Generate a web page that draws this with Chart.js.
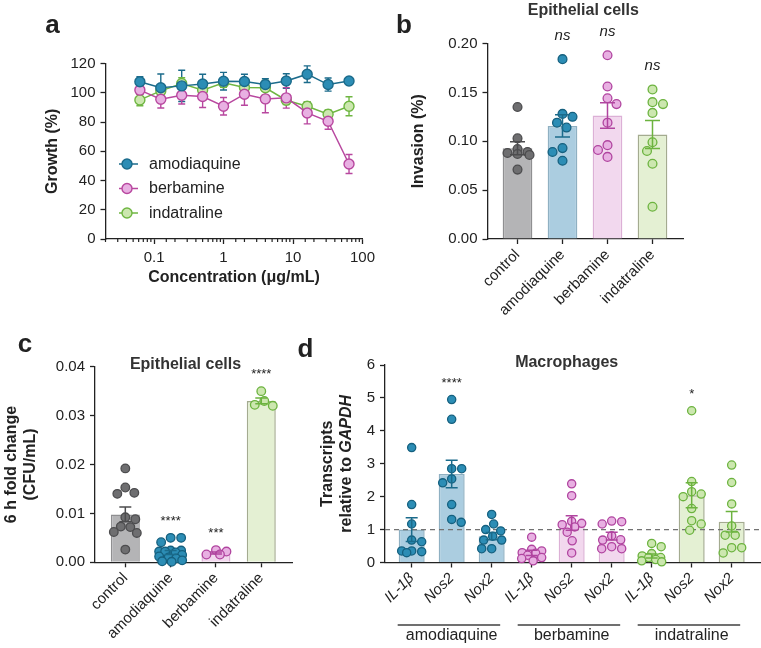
<!DOCTYPE html>
<html>
<head>
<meta charset="utf-8">
<script src="https://cdn.jsdelivr.net/npm/chart.js@4.4.1/dist/chart.umd.min.js"></script>
<style>
  html, body { margin:0; padding:0; background:#ffffff; }
  #fig { position:relative; width:761px; height:648px; overflow:hidden; background:#fff; }
  .panel { position:absolute; }
</style>
</head>
<body>
<div id="fig">
  <div class="panel" style="left:0;top:0;width:380px;height:300px"><canvas id="chartA"></canvas></div>
  <div class="panel" style="left:380px;top:0;width:381px;height:320px"><canvas id="chartB"></canvas></div>
  <div class="panel" style="left:0;top:320px;width:300px;height:328px"><canvas id="chartC"></canvas></div>
  <div class="panel" style="left:290px;top:320px;width:471px;height:328px"><canvas id="chartD"></canvas></div>
</div>
<script>
// ================= DATA =================
// Panel a: growth vs concentration
const concentrations = [0.0625, 0.125, 0.25, 0.5, 1, 2, 4, 8, 16, 32, 64];
const concTicks = [0.1, 1, 10, 100];
const growthTicks = [0, 20, 40, 60, 80, 100, 120];
const drugNames = ['amodiaquine', 'berbamine', 'indatraline'];
const growthAmodiaquine    = [107.5, 103.4, 104.7, 106.0, 107.9, 107.7, 105.6, 108.0, 112.7, 105.6, 108.0];
const growthAmodiaquineSem = [3.4, 9.4, 10.7, 6.6, 6.0, 5.0, 4.0, 5.0, 5.7, 4.5, 1.5];
const growthBerbamine      = [101.8, 95.6, 98.3, 97.4, 90.8, 99.0, 95.8, 96.5, 86.2, 80.5, 51.3];
const growthBerbamineSem   = [3.0, 6.0, 6.0, 7.5, 6.0, 7.5, 9.5, 7.0, 7.5, 5.5, 6.5];
const growthIndatraline    = [95.1, 101.3, 106.3, 101.8, 106.8, 103.6, 103.4, 94.9, 90.8, 85.3, 90.8];
const growthIndatralineSem = [4.0, 4.0, 4.0, 3.0, 3.0, 3.0, 5.0, 3.0, 3.0, 3.0, 6.5];

// Panel b: invasion of epithelial cells
const treatmentLabels = ['control', 'amodiaquine', 'berbamine', 'indatraline'];
const invasionTicks = [0, 0.05, 0.10, 0.15, 0.20];
const invasionMean = [0.0928, 0.1157, 0.1263, 0.1068];
const invasionSem  = [0.0066, 0.0113, 0.0131, 0.0143];
const invasionControl     = [0.135, 0.103, 0.092, 0.089, 0.088, 0.087, 0.086, 0.071];
const invasionAmodiaquine = [0.184, 0.128, 0.125, 0.119, 0.114, 0.093, 0.089, 0.080];
const invasionBerbamine   = [0.188, 0.156, 0.144, 0.138, 0.119, 0.096, 0.091, 0.084];
const invasionIndatraline = [0.153, 0.140, 0.138, 0.129, 0.099, 0.090, 0.077, 0.033];
const invasionSig = ['', 'ns', 'ns', 'ns'];

// Panel c: 6 h fold change (CFU/mL)
const cfuTicks = [0, 0.01, 0.02, 0.03, 0.04];
const cfuMean = [0.0098, 0.0020, 0.0019, 0.0330];
const cfuSem  = [0.0015, 0.0004, 0.0002, 0.0006];
const cfuControl     = [0.0192, 0.0153, 0.0142, 0.0140, 0.0092, 0.0088, 0.0073, 0.0072, 0.0062, 0.0060, 0.0026];
const cfuAmodiaquine = [0.0050, 0.0050, 0.0041, 0.0024, 0.0024, 0.0022, 0.0022, 0.0020, 0.0015, 0.0012, 0.0010, 0.0008, 0.0004, 0.0002, 0.0001];
const cfuBerbamine   = [0.0025, 0.0022, 0.0016, 0.0016];
const cfuIndatraline = [0.0350, 0.0330, 0.0322, 0.0320];
const cfuSig = ['', '****', '***', '****'];

// Panel d: macrophage transcripts relative to GAPDH
const geneLabels = ['IL-1β', 'Nos2', 'Nox2', 'IL-1β', 'Nos2', 'Nox2', 'IL-1β', 'Nos2', 'Nox2'];
const geneGroups = ['amodiaquine', 'berbamine', 'indatraline'];
const transcriptTicks = [0, 1, 2, 3, 4, 5, 6];
const transcriptMean = [1.00, 2.69, 0.80, 0.29, 1.20, 0.80, 0.20, 2.04, 1.24];
const transcriptSem  = [0.36, 0.42, 0.11, 0.08, 0.22, 0.12, 0.06, 0.38, 0.31];
const amoIL1b = [3.49, 1.76, 1.17, 0.68, 0.63, 0.35, 0.35, 0.33, 0.30];
const amoNos2 = [4.95, 4.35, 2.85, 2.85, 2.54, 2.42, 1.76, 1.31, 1.22];
const amoNox2 = [1.46, 1.17, 1.00, 0.96, 0.80, 0.68, 0.68, 0.42, 0.42];
const berIL1b = [0.77, 0.40, 0.35, 0.30, 0.28, 0.22, 0.15, 0.12, 0.05];
const berNos2 = [2.39, 2.03, 1.25, 1.19, 1.15, 1.08, 0.92, 0.66, 0.29];
const berNox2 = [1.26, 1.24, 1.17, 0.81, 0.69, 0.68, 0.48, 0.42, 0.42];
const indIL1b = [0.58, 0.48, 0.27, 0.20, 0.15, 0.15, 0.09, 0.05, 0.02];
const indNos2 = [4.61, 2.46, 2.15, 2.08, 2.00, 1.64, 1.27, 1.17, 0.98];
const indNox2 = [2.96, 2.43, 1.78, 1.11, 0.83, 0.83, 0.45, 0.45, 0.29];
const transcriptSig = ['', '****', '', '', '', '', '', '*', ''];
const transcriptBaseline = 1;

// ================= STYLE =================
const FONT = "'Liberation Sans', Arial, Helvetica, sans-serif";
const INK = '#222222';
Chart.defaults.font.family = FONT;
Chart.defaults.color = INK;

const STYLE = {
  control:     { bar:'#b4b4b6', edge:'#8f8f91', dot:'#6e6e70', dotEdge:'#4c4c4e', err:'#4c4c4e' },
  amodiaquine: { bar:'#abcde0', edge:'#8fb0c2', dot:'#2c8db5', dotEdge:'#15607f', err:'#1b6b8b', line:'#1b6b8b' },
  berbamine:   { bar:'#f2d8ee', edge:'#dcb0d6', dot:'#e8b0e2', dotEdge:'#b0449f', err:'#b0449f', line:'#b8479f' },
  indatraline: { bar:'#e4f0d3', edge:'#a4ab90', dot:'#cce7af', dotEdge:'#6cb33f', err:'#6cb33f', line:'#6fb642' },
};

function axisCommon() {
  return {
    border: { display: true, color: INK, width: 1.3 },
    grid: { drawOnChartArea: false, drawTicks: true, tickLength: 5, tickColor: INK, tickWidth: 1.3 },
  };
}

// bounded beeswarm: spread points sideways within +-L px, allowing overlap when crowded
function beeswarm(pys, D, L) {
  const order = pys.map((_, i) => i).sort((a, b) => pys[a] - pys[b]);
  const placed = [];
  const offs = new Array(pys.length).fill(0);
  let side = 1;
  for (const i of order) {
    const y = pys[i];
    let best = 0, bestScore = Infinity;
    for (let x = -L; x <= L + 1e-9; x += 0.5) {
      let pen = 0;
      placed.forEach(p => {
        const d = Math.hypot(p.x - x, p.y - y);
        if (d < D) pen += (D - d) * (D - d);
      });
      let score = pen * 10 + Math.abs(x) * 0.05;
      if (x * side < 0) score += 0.01;
      if (score < bestScore - 1e-9) { bestScore = score; best = x; }
    }
    if (Math.abs(best) > 0.25) side = -Math.sign(best);
    offs[i] = best;
    placed.push({ x: best, y });
  }
  return offs;
}

function drawTexts(ctx, texts) {
  texts.forEach(t => {
    ctx.font = t.font;
    ctx.fillStyle = t.color || INK;
    ctx.textAlign = t.align || 'center';
    ctx.textBaseline = t.baseline || 'alphabetic';
    ctx.fillText(t.text, t.x, t.y);
  });
}

// ================= PANEL A =================
const growthSeries = [growthAmodiaquine, growthBerbamine, growthIndatraline];
const growthSems = [growthAmodiaquineSem, growthBerbamineSem, growthIndatralineSem];
const isPow10 = v => { const l = Math.log10(v); return Math.abs(l - Math.round(l)) < 1e-6; };

const panelAPlugin = {
  id: 'panelA',
  beforeDatasetsDraw(chart) {
    const { ctx, scales: { x, y } } = chart;
    ctx.save();
    ctx.lineWidth = 1.4;
    growthSeries.forEach((vals, k) => {
      ctx.strokeStyle = STYLE[drugNames[k]].line;
      vals.forEach((v, i) => {
        const px = x.getPixelForValue(concentrations[i]);
        const top = y.getPixelForValue(v + growthSems[k][i]);
        const bot = y.getPixelForValue(v - growthSems[k][i]);
        ctx.beginPath();
        ctx.moveTo(px, top); ctx.lineTo(px, bot);
        ctx.moveTo(px - 3.5, top); ctx.lineTo(px + 3.5, top);
        ctx.moveTo(px - 3.5, bot); ctx.lineTo(px + 3.5, bot);
        ctx.stroke();
      });
    });
    ctx.restore();
  },
  afterDraw(chart) {
    const { ctx, chartArea: ca, scales: { x } } = chart;
    ctx.save();
    ctx.strokeStyle = INK; ctx.lineWidth = 1.2;
    x.ticks.forEach(t => {
      if (isPow10(t.value)) return;
      const px = x.getPixelForValue(t.value);
      ctx.beginPath(); ctx.moveTo(px, ca.bottom); ctx.lineTo(px, ca.bottom + 3); ctx.stroke();
    });
    chart.data.datasets.forEach((ds, k) => {
      const yy = ca.top + 100.5 + k * 24.5;
      const x0 = ca.left + 13.5;
      ctx.strokeStyle = ds.borderColor; ctx.lineWidth = 1.5;
      ctx.beginPath(); ctx.moveTo(x0, yy); ctx.lineTo(x0 + 19, yy); ctx.stroke();
      ctx.beginPath(); ctx.arc(x0 + 8, yy, 5, 0, Math.PI * 2);
      ctx.fillStyle = ds.pointBackgroundColor; ctx.fill(); ctx.lineWidth = 1.4; ctx.stroke();
      ctx.fillStyle = INK; ctx.font = `16px ${FONT}`; ctx.textAlign = 'left'; ctx.textBaseline = 'middle';
      ctx.fillText(ds.label, x0 + 30, yy + 0.5);
    });
    drawTexts(ctx, [{ text: 'a', x: 52.5, y: 33, font: `bold 26px ${FONT}` }]);
    ctx.restore();
  }
};

(function () {
  const W = 380, H = 300, area = { l: 105.5, r: 368.5, t: 63.5, b: 239 };
  const xc = axisCommon(), yc = axisCommon();
  new Chart(document.getElementById('chartA'), {
    type: 'line',
    data: {
      datasets: drugNames.map((name, k) => ({
        label: name,
        data: concentrations.map((c, i) => ({ x: c, y: growthSeries[k][i] })),
        borderColor: STYLE[name].line,
        backgroundColor: STYLE[name].dot,
        pointBackgroundColor: STYLE[name].dot,
        pointBorderColor: STYLE[name].line,
        pointRadius: 5, pointBorderWidth: 1.4, borderWidth: 1.5, tension: 0, fill: false,
      }))
    },
    options: {
      responsive: true, maintainAspectRatio: false, animation: false,
      layout: { padding: { left: 0, top: area.t, right: W - area.r, bottom: 0 } },
      plugins: { legend: { display: false }, tooltip: { enabled: false } },
      scales: {
        x: {
          type: 'logarithmic', min: 0.02, max: 100,
          afterFit: s => { s.height = H - area.b; },
          border: xc.border,
          grid: Object.assign({}, xc.grid, { tickColor: c => (c.tick && isPow10(c.tick.value)) ? INK : 'rgba(0,0,0,0)' }),
          ticks: {
            autoSkip: false, maxRotation: 0, minRotation: 0, padding: 5, font: { size: 15 }, color: INK,
            callback: v => { const t = concTicks.find(t => Math.abs(t - v) / t < 1e-6); return t !== undefined ? String(t) : ''; }
          },
          title: { display: true, text: 'Concentration (μg/mL)', font: { size: 16, weight: 'bold' }, color: INK, padding: { top: 0, bottom: 12.4 } }
        },
        y: {
          min: 0, max: 120,
          afterBuildTicks: s => { s.ticks = growthTicks.map(v => ({ value: v })); },
          afterFit: s => { s.width = area.l; },
          border: yc.border, grid: yc.grid,
          ticks: { padding: 5, font: { size: 15 }, color: INK },
          title: { display: true, text: 'Growth (%)', font: { size: 16, weight: 'bold' }, color: INK, padding: { top: 43.4, bottom: 0 } }
        }
      }
    },
    plugins: [panelAPlugin]
  });
})();

// ================= BAR PANELS =================
function makeBarPanel(id, spec) {
  const { W, H, area } = spec;
  const cols = spec.styles;
  const plugin = {
    id: 'extras_' + id,
    afterDatasetsDraw(chart) {
      const { ctx, chartArea: ca, scales: { x, y } } = chart;
      ctx.save();
      if (spec.refLine !== undefined) {
        const py = y.getPixelForValue(spec.refLine);
        ctx.setLineDash([5, 4]); ctx.strokeStyle = '#727272'; ctx.lineWidth = 1.3;
        ctx.beginPath(); ctx.moveTo(ca.left, py); ctx.lineTo(ca.right, py); ctx.stroke();
        ctx.setLineDash([]);
      }
      spec.points.forEach((vals, i) => {
        const cx = x.getPixelForValue(i);
        const ys = vals.map(v => y.getPixelForValue(v));
        const offs = beeswarm(ys, 2 * spec.r + 1.6, spec.spread);
        ys.forEach((py, j) => {
          ctx.beginPath(); ctx.arc(cx + offs[j], py, spec.r, 0, Math.PI * 2);
          ctx.fillStyle = cols[i].dot; ctx.fill();
          ctx.lineWidth = 1.3; ctx.strokeStyle = cols[i].dotEdge; ctx.stroke();
        });
      });
      spec.mean.forEach((m, i) => {
        const cx = x.getPixelForValue(i);
        const top = y.getPixelForValue(m + spec.sem[i]);
        const bot = y.getPixelForValue(Math.max(0, m - spec.sem[i]));
        ctx.strokeStyle = cols[i].err; ctx.lineWidth = 1.5;
        ctx.beginPath();
        ctx.moveTo(cx, top); ctx.lineTo(cx, bot);
        ctx.moveTo(cx - spec.cap, top); ctx.lineTo(cx + spec.cap, top);
        ctx.moveTo(cx - spec.cap, bot); ctx.lineTo(cx + spec.cap, bot);
        ctx.stroke();
      });
      spec.sig.forEach((s, i) => {
        if (!s) return;
        const topPx = Math.min(...spec.points[i].map(v => y.getPixelForValue(v)), y.getPixelForValue(spec.mean[i] + spec.sem[i]));
        const isNs = s === 'ns';
        ctx.font = isNs ? `italic 15px ${FONT}` : `13px ${FONT}`;
        ctx.fillStyle = INK; ctx.textAlign = 'center'; ctx.textBaseline = 'alphabetic';
        ctx.fillText(s, x.getPixelForValue(i), topPx - (isNs ? 19 : 13));
      });
      ctx.restore();
    },
    afterDraw(chart) {
      const { ctx } = chart;
      ctx.save();
      if (spec.decorate) spec.decorate(chart);
      drawTexts(ctx, spec.texts);
      ctx.restore();
    }
  };
  const xc = axisCommon(), yc = axisCommon();
  return new Chart(document.getElementById(id), {
    type: 'bar',
    data: {
      datasets: [{
        data: spec.mean.map((m, i) => ({ x: i, y: m })),
        backgroundColor: cols.map(c => c.bar),
        borderColor: cols.map(c => c.edge),
        borderWidth: 1.5,
        barPercentage: spec.barPct,
        categoryPercentage: 1,
      }]
    },
    options: {
      responsive: true, maintainAspectRatio: false, animation: false,
      layout: { padding: { left: 0, top: area.t, right: W - area.r, bottom: 0 } },
      plugins: { legend: { display: false }, tooltip: { enabled: false } },
      scales: {
        x: {
          type: 'linear', min: spec.xMin, max: spec.xMax, offset: false,
          afterBuildTicks: s => { s.ticks = spec.labels.map((_, i) => ({ value: i })); },
          afterFit: s => { s.height = H - area.b; },
          border: xc.border, grid: Object.assign({}, xc.grid, { offset: false }),
          ticks: {
            autoSkip: false, minRotation: 45, maxRotation: 45, padding: 2,
            font: { size: 15, style: spec.italicTicks ? 'italic' : 'normal' }, color: INK,
            callback: v => spec.labels[Math.round(v)] || ''
          }
        },
        y: {
          min: 0, max: spec.yTicks[spec.yTicks.length - 1],
          afterBuildTicks: s => { s.ticks = spec.yTicks.map(v => ({ value: v })); },
          afterFit: s => { s.width = area.l; },
          border: yc.border, grid: yc.grid,
          ticks: { padding: 5, font: { size: 15 }, color: INK, callback: v => Number(v).toFixed(spec.decimals) },
          title: spec.yTitle
            ? { display: true, text: spec.yTitle, font: { size: 16, weight: 'bold', lineHeight: 1.2 }, color: INK, padding: { top: spec.yTitlePad, bottom: 0 } }
            : { display: false }
        }
      }
    },
    plugins: [plugin]
  });
}

const catStyles = treatmentLabels.map(n => STYLE[n]);

// Panel b
makeBarPanel('chartB', {
  W: 381, H: 320, area: { l: 107.5, r: 303, t: 43.5, b: 239 },
  labels: treatmentLabels, xMin: -0.667, xMax: 3.678,
  mean: invasionMean, sem: invasionSem,
  points: [invasionControl, invasionAmodiaquine, invasionBerbamine, invasionIndatraline],
  sig: invasionSig, styles: catStyles,
  yTicks: invasionTicks, decimals: 2,
  yTitle: 'Invasion (%)', yTitlePad: 29.4,
  barPct: 0.66, r: 4.4, cap: 7.5, spread: 12,
  texts: [
    { text: 'b', x: 24, y: 33, font: `bold 26px ${FONT}` },
    { text: 'Epithelial cells', x: 203.3, y: 14.8, font: `bold 16px ${FONT}`, color: '#333' },
  ]
});

// Panel c
makeBarPanel('chartC', {
  W: 300, H: 328, area: { l: 95, r: 292, t: 46.7, b: 242.3 },
  labels: treatmentLabels, xMin: -0.669, xMax: 3.678,
  mean: cfuMean, sem: cfuSem,
  points: [cfuControl, cfuAmodiaquine, cfuBerbamine, cfuIndatraline],
  sig: cfuSig, styles: catStyles,
  yTicks: cfuTicks, decimals: 2,
  yTitle: ['6 h fold change', '(CFU/mL)'], yTitlePad: 2.1,
  barPct: 0.64, r: 4.3, cap: 6, spread: 11.5,
  texts: [
    { text: 'c', x: 25, y: 32, font: `bold 26px ${FONT}` },
    { text: 'Epithelial cells', x: 185.5, y: 48.5, font: `bold 16px ${FONT}`, color: '#333' },
  ]
});

// Panel d
const geneStyles = geneLabels.map((_, i) => STYLE[geneGroups[Math.floor(i / 3)]]);
makeBarPanel('chartD', {
  W: 471, H: 328, area: { l: 95, r: 470, t: 45, b: 242.5 },
  labels: geneLabels, xMin: -0.667, xMax: 8.708, italicTicks: true,
  mean: transcriptMean, sem: transcriptSem,
  points: [amoIL1b, amoNos2, amoNox2, berIL1b, berNos2, berNox2, indIL1b, indNos2, indNox2],
  sig: transcriptSig, styles: geneStyles, refLine: transcriptBaseline,
  yTicks: transcriptTicks, decimals: 0,
  yTitle: null,
  barPct: 0.65, r: 4.1, cap: 6, spread: 10,
  texts: [
    { text: 'd', x: 15.5, y: 37, font: `bold 26px ${FONT}` },
    { text: 'Macrophages', x: 276.7, y: 46.5, font: `bold 16px ${FONT}`, color: '#333' },
  ],
  decorate(chart) {
    const { ctx, chartArea: ca, scales: { x } } = chart;
    geneGroups.forEach((g, k) => {
      const x1 = x.getPixelForValue(k * 3) - 14;
      const x2 = x.getPixelForValue(k * 3 + 2) + 8.5;
      ctx.strokeStyle = '#707070'; ctx.lineWidth = 2;
      ctx.beginPath(); ctx.moveTo(x1, 305); ctx.lineTo(x2, 305); ctx.stroke();
      ctx.font = `16px ${FONT}`; ctx.fillStyle = INK; ctx.textAlign = 'center'; ctx.textBaseline = 'alphabetic';
      ctx.fillText(g, x.getPixelForValue(k * 3 + 1), 319.7);
    });
    const cy = (ca.top + ca.bottom) / 2;
    ctx.save();
    ctx.translate(37.3, cy); ctx.rotate(-Math.PI / 2);
    ctx.font = `bold 16px ${FONT}`; ctx.fillStyle = INK; ctx.textAlign = 'center'; ctx.textBaseline = 'middle';
    ctx.fillText('Transcripts', 0, 0);
    ctx.restore();
    ctx.save();
    ctx.translate(56.7, cy); ctx.rotate(-Math.PI / 2);
    ctx.textBaseline = 'middle'; ctx.textAlign = 'left'; ctx.fillStyle = INK;
    const p1 = 'relative to ', p2 = 'GAPDH';
    ctx.font = `bold 16px ${FONT}`; const w1 = ctx.measureText(p1).width;
    ctx.font = `italic bold 16px ${FONT}`; const w2 = ctx.measureText(p2).width;
    const start = -(w1 + w2) / 2;
    ctx.font = `bold 16px ${FONT}`; ctx.fillText(p1, start, 0);
    ctx.font = `italic bold 16px ${FONT}`; ctx.fillText(p2, start + w1, 0);
    ctx.restore();
  }
});
</script>
</body>
</html>
